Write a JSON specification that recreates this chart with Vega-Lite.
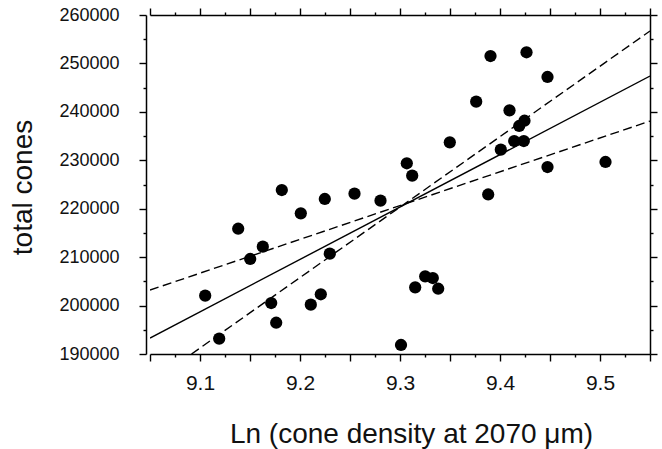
{
  "$schema": "https://vega.github.io/schema/vega-lite/v6.json",
  "autosize": "none",
  "width": 500,
  "height": 339,
  "padding": {"left": 150, "top": 15, "right": 12, "bottom": 95},
  "background": "white",
  "config": {
    "view": {"stroke": null},
    "font": "Liberation Sans",
    "axis": {
      "domainColor": "#000",
      "domainWidth": 1.5,
      "tickColor": "#000",
      "tickWidth": 1.4,
      "grid": false,
      "labelColor": "#111",
      "titleColor": "#111",
      "labelFont": "Liberation Sans",
      "titleFont": "Liberation Sans",
      "titleFontWeight": "normal",
      "labelOverlap": false,
      "labelBound": false,
      "labelFlush": false
    }
  },
  "datasets": {
    "points": [
      {"x": 9.1052, "y": 202040},
      {"x": 9.1192, "y": 193160},
      {"x": 9.1382, "y": 215870},
      {"x": 9.1502, "y": 209620},
      {"x": 9.1628, "y": 212160},
      {"x": 9.1712, "y": 200530},
      {"x": 9.1762, "y": 196460},
      {"x": 9.1818, "y": 223860},
      {"x": 9.2008, "y": 219050},
      {"x": 9.2108, "y": 200180},
      {"x": 9.2208, "y": 202330},
      {"x": 9.2248, "y": 222010},
      {"x": 9.2298, "y": 210710},
      {"x": 9.2545, "y": 223100},
      {"x": 9.2805, "y": 221660},
      {"x": 9.3010, "y": 191860},
      {"x": 9.3068, "y": 229380},
      {"x": 9.3122, "y": 226820},
      {"x": 9.3152, "y": 203770},
      {"x": 9.3252, "y": 206040},
      {"x": 9.3328, "y": 205690},
      {"x": 9.3382, "y": 203480},
      {"x": 9.3498, "y": 233710},
      {"x": 9.3762, "y": 242100},
      {"x": 9.3905, "y": 251530},
      {"x": 9.3882, "y": 222940},
      {"x": 9.4008, "y": 232190},
      {"x": 9.4095, "y": 240320},
      {"x": 9.4142, "y": 233980},
      {"x": 9.4192, "y": 237080},
      {"x": 9.4245, "y": 238170},
      {"x": 9.4238, "y": 233980},
      {"x": 9.4265, "y": 252300},
      {"x": 9.4475, "y": 247200},
      {"x": 9.4475, "y": 228610},
      {"x": 9.5055, "y": 229650}
    ],
    "lines": [
      {"x": 9.05, "y": 193300, "line": "fit"},
      {"x": 9.55, "y": 247400, "line": "fit"},
      {"x": 9.0915, "y": 190000, "line": "upper"},
      {"x": 9.55, "y": 256700, "line": "upper"},
      {"x": 9.05, "y": 203200, "line": "lower"},
      {"x": 9.55, "y": 238100, "line": "lower"}
    ]
  },
  "layer": [
    {
      "data": {"name": "lines"},
      "transform": [{"filter": "datum.line === 'fit'"}],
      "mark": {"type": "line", "color": "#000", "strokeWidth": 1.4, "clip": true},
      "encoding": {
        "x": {
          "field": "x", "type": "quantitative",
          "scale": {"domain": [9.05, 9.55], "nice": false, "zero": false},
          "axis": {
            "orient": "bottom",
            "title": "Ln (cone density at 2070 μm)",
            "titleFontSize": 28,
            "titleAlign": "center",
            "titleBaseline": "alphabetic",
            "titleX": 261,
            "titleY": 88,
            "values": [9.05, 9.075, 9.1, 9.125, 9.15, 9.175, 9.2, 9.225, 9.25, 9.275, 9.3, 9.325, 9.35, 9.375, 9.4, 9.425, 9.45, 9.475, 9.5, 9.525, 9.55],
            "tickSize": {"condition": {"test": "abs(datum.value*20 - round(datum.value*20)) < 0.000001", "value": 7}, "value": 3},
            "labelExpr": "abs(datum.value*10 - round(datum.value*10)) < 0.000001 ? format(datum.value, '.1f') : ''",
            "labelFontSize": 21,
            "labelPadding": 11
          }
        },
        "y": {
          "field": "y", "type": "quantitative",
          "scale": {"domain": [190000, 260000], "nice": false, "zero": false},
          "axis": {
            "orient": "left",
            "offset": 4,
            "title": "total cones",
            "titleFontSize": 28,
            "titleAngle": -90,
            "titleAlign": "center",
            "titleBaseline": "alphabetic",
            "titleX": -115,
            "titleY": 172,
            "values": [190000, 195000, 200000, 205000, 210000, 215000, 220000, 225000, 230000, 235000, 240000, 245000, 250000, 255000, 260000],
            "tickSize": {"condition": {"test": "datum.value % 10000 === 0", "value": 7}, "value": 3},
            "labelExpr": "datum.value % 10000 === 0 ? format(datum.value, 'd') : ''",
            "labelFontSize": 18,
            "labelPadding": 20
          }
        }
      }
    },
    {
      "data": {"name": "lines"},
      "transform": [{"filter": "datum.line !== 'fit'"}],
      "mark": {"type": "line", "color": "#000", "strokeWidth": 1.4, "strokeDash": [9, 4.5], "clip": true},
      "encoding": {
        "x": {
          "field": "x", "type": "quantitative",
          "axis": {
            "orient": "top",
            "title": null,
            "labels": false,
            "values": [9.05, 9.075, 9.1, 9.125, 9.15, 9.175, 9.2, 9.225, 9.25, 9.275, 9.3, 9.325, 9.35, 9.375, 9.4, 9.425, 9.45, 9.475, 9.5, 9.525, 9.55],
            "tickSize": {"condition": {"test": "abs(datum.value*20 - round(datum.value*20)) < 0.000001", "value": 7}, "value": 3}
          }
        },
        "y": {
          "field": "y", "type": "quantitative",
          "axis": {
            "orient": "right",
            "title": null,
            "labels": false,
            "values": [190000, 195000, 200000, 205000, 210000, 215000, 220000, 225000, 230000, 235000, 240000, 245000, 250000, 255000, 260000],
            "tickSize": {"condition": {"test": "datum.value % 10000 === 0", "value": 7}, "value": 3}
          }
        },
        "detail": {"field": "line", "type": "nominal"}
      }
    },
    {
      "data": {"name": "points"},
      "mark": {"type": "circle", "color": "#000", "opacity": 1, "size": 150},
      "encoding": {
        "x": {"field": "x", "type": "quantitative", "axis": null},
        "y": {"field": "y", "type": "quantitative", "axis": null}
      }
    }
  ],
  "resolve": {"axis": {"x": "independent", "y": "independent"}}
}
